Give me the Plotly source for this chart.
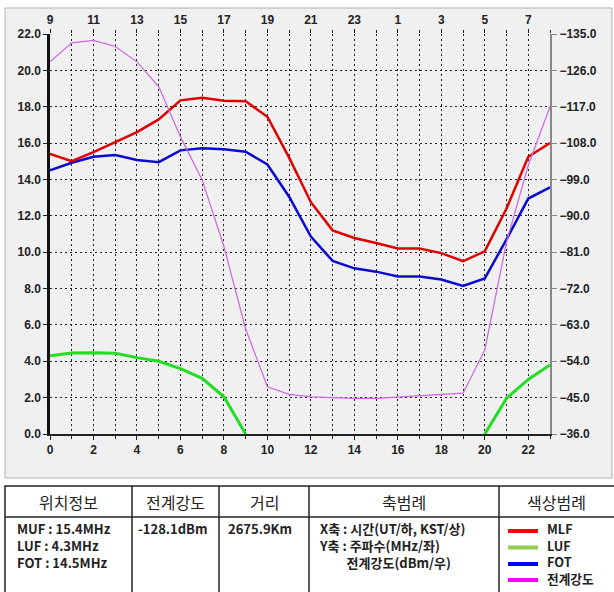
import plotly.graph_objects as go

# ---------------- data ----------------
hours = list(range(24))
kst_labels = [str((h + 9) % 24) for h in range(0, 24, 2)]
utc_ticks = list(range(0, 24, 2))
freq_ticks = [0, 2, 4, 6, 8, 10, 12, 14, 16, 18, 20, 22]
dbm_ticks = [-36, -45, -54, -63, -72, -81, -90, -99, -108, -117, -126, -135]

muf = [15.4, 15.0, 15.5, 16.05, 16.6, 17.3, 18.35, 18.5, 18.33, 18.3, 17.45, 15.2,
       12.75, 11.2, 10.78, 10.5, 10.2, 10.2, 9.95, 9.5, 10.05, 12.4, 15.25, 16.0]
fot = [14.5, 14.92, 15.25, 15.35, 15.07, 14.95, 15.6, 15.71, 15.66, 15.53, 14.82, 13.05,
       10.86, 9.52, 9.11, 8.93, 8.66, 8.66, 8.5, 8.14, 8.56, 10.7, 12.95, 13.56]
luf = [4.3, 4.45, 4.47, 4.44, 4.2, 4.0, 3.6, 3.06, 2.05, 0.0,
       None, None, None, None, None, None, None, None, None, None,
       0.0, 1.96, 3.0, 3.8]
field = [-128.1, -132.8, -133.4, -131.9, -128.1, -122.0, -109.6, -98.9, -82.4, -62.0,
         -47.7, -45.8, -45.2, -45.0, -44.8, -44.8, -45.1, -45.5, -45.8, -46.1,
         -56.8, -83.5, -102.5, -117.0]

info_lines = ["MUF : 15.4MHz", "LUF : 4.3MHz", "FOT : 14.5MHz"]
field_now = "-128.1dBm"
distance = "2675.9Km"
axis_legend = ["X축 : 시간(UT/하, KST/상)", "Y축 : 주파수(MHz/좌)",
               "\u00a0" * 9 + "전계강도(dBm/우)"]
headers = ["위치정보", "전계강도", "거리", "축범례", "색상범례"]
legend_names = ["MLF", "LUF", "FOT", "전계강도"]
legend_colors = ["#ff0000", "#92d050", "#0000ff", "#ff00ff"]

# ---------------- figure ----------------
W, H = 614, 592
L, R, T, B = 50, 64, 34, 158
PW, PH = W - L - R, H - T - B


def px(x):
    return (x - L) / PW


def py(y):
    return (H - B - y) / PH


fig = go.Figure()
fig.add_trace(go.Scatter(x=hours, y=field, mode="lines", yaxis="y2",
                         line=dict(color="#cc66dd", width=1.2), showlegend=False))
fig.add_trace(go.Scatter(x=hours, y=luf, mode="lines",
                         line=dict(color="#22dd22", width=3), showlegend=False))
fig.add_trace(go.Scatter(x=hours, y=fot, mode="lines",
                         line=dict(color="#0a0ad0", width=2.5), showlegend=False))
fig.add_trace(go.Scatter(x=hours, y=muf, mode="lines",
                         line=dict(color="#e00000", width=2.5), showlegend=False))
# invisible trace to activate top axis
fig.add_trace(go.Scatter(x=[0, 23], y=[None, None], xaxis="x2", showlegend=False,
                         hoverinfo="skip"))

tickfont = dict(family="Liberation Sans", size=12, color="#222222", weight="bold")
grid = dict(showgrid=True, gridcolor="#222222", gridwidth=1.3, griddash="2px,3px")

fig.update_layout(
    width=W, height=H,
    margin=dict(l=L, r=R, t=T, b=B),
    paper_bgcolor="white",
    plot_bgcolor="white",
    xaxis=dict(range=[0, 23], tickvals=utc_ticks, ticks="outside", ticklen=4,
               tickcolor="#222", tickfont=tickfont, showline=True, linecolor="#222",
               linewidth=2, zeroline=False,
               minor=dict(dtick=1, tick0=0, ticks="outside", ticklen=3, tickcolor="#222",
                          showgrid=True, gridcolor="#222222", gridwidth=1.3,
                          griddash="2px,3px"),
               **grid),
    xaxis2=dict(range=[0, 23], overlaying="x", side="top", tickvals=utc_ticks,
                ticktext=kst_labels, ticks="outside", ticklen=4, tickcolor="#222",
                tickfont=tickfont, showgrid=False, showline=False, zeroline=False,
                minor=dict(dtick=1, tick0=0, ticks="outside", ticklen=3,
                           tickcolor="#222")),
    yaxis=dict(range=[0, 22], tickvals=freq_ticks, tickformat=".1f", ticks="outside",
               ticklen=4, tickcolor="#222", tickfont=tickfont, showline=True,
               linecolor="#111", linewidth=2.5, zeroline=False, **grid),
    yaxis2=dict(range=[-36, -135], overlaying="y", side="right", tickvals=dbm_ticks,
                tickformat=".1f", ticks="outside", ticklen=5, tickcolor="#888",
                tickfont=tickfont, showline=True, linecolor="#888", linewidth=2,
                showgrid=False, zeroline=False),
)

shapes = []
# chart panel
shapes.append(dict(type="rect", xref="paper", yref="paper", layer="below",
                   x0=px(5), x1=px(612), y0=py(478), y1=py(8),
                   fillcolor="#f0f0f0", line=dict(color="#b0b0b0", width=1)))
# table
tbl_top, hdr_bot, tbl_bot = 486, 517, 600
cols = [5, 132, 219, 309, 499, 640]
shapes.append(dict(type="rect", xref="paper", yref="paper",
                   x0=px(cols[0]), x1=px(cols[-1]), y0=py(tbl_bot), y1=py(tbl_top),
                   fillcolor="white", line=dict(color="#222", width=1.5)))
shapes.append(dict(type="line", xref="paper", yref="paper",
                   x0=px(cols[0]), x1=px(cols[-1]), y0=py(hdr_bot), y1=py(hdr_bot),
                   line=dict(color="#222", width=1.5)))
for c in cols[1:-1]:
    shapes.append(dict(type="line", xref="paper", yref="paper",
                       x0=px(c), x1=px(c), y0=py(tbl_bot), y1=py(tbl_top),
                       line=dict(color="#222", width=1.5)))
# legend swatches
leg_y = [531, 547.5, 564, 580]
for yy, col in zip(leg_y, legend_colors):
    shapes.append(dict(type="line", xref="paper", yref="paper",
                       x0=px(508), x1=px(538), y0=py(yy), y1=py(yy),
                       line=dict(color=col, width=4)))
fig.update_layout(shapes=shapes)

kfont_h = dict(family="Noto Sans CJK KR", size=16, color="#222")
kfont_b = dict(family="Noto Sans CJK KR", size=13, color="#222", weight="bold")
ann = []
hdr_centers = [68.5, 175.5, 264, 404, 556]
for cx, t in zip(hdr_centers, headers):
    ann.append(dict(x=px(cx), y=py(501.5), xref="paper", yref="paper", text=t,
                    showarrow=False, xanchor="center", yanchor="middle", font=kfont_h))
body_top = 516.5
ann.append(dict(x=px(15), y=py(body_top), xref="paper", yref="paper",
                text="<br>".join(info_lines), align="left",
                showarrow=False, xanchor="left", yanchor="top", font=kfont_b))
ann.append(dict(x=px(136), y=py(body_top), xref="paper", yref="paper", text=field_now,
                showarrow=False, xanchor="left", yanchor="top", font=kfont_b))
ann.append(dict(x=px(226), y=py(body_top), xref="paper", yref="paper", text=distance,
                showarrow=False, xanchor="left", yanchor="top", font=kfont_b))
ann.append(dict(x=px(317), y=py(body_top), xref="paper", yref="paper",
                text="<br>".join(axis_legend), align="left",
                showarrow=False, xanchor="left", yanchor="top", font=kfont_b))
ann.append(dict(x=px(545), y=py(517), xref="paper", yref="paper",
                text="<br>".join(legend_names), align="left",
                showarrow=False, xanchor="left", yanchor="top",
                font=dict(family="Noto Sans CJK KR", size=12.7, color="#222",
                          weight="bold")))
fig.update_layout(annotations=ann)

fig.write_html("out.html",
               config={"displayModeBar": False},
               post_script="document.body.style.margin='0';"
                           "document.body.style.overflow='hidden';")
